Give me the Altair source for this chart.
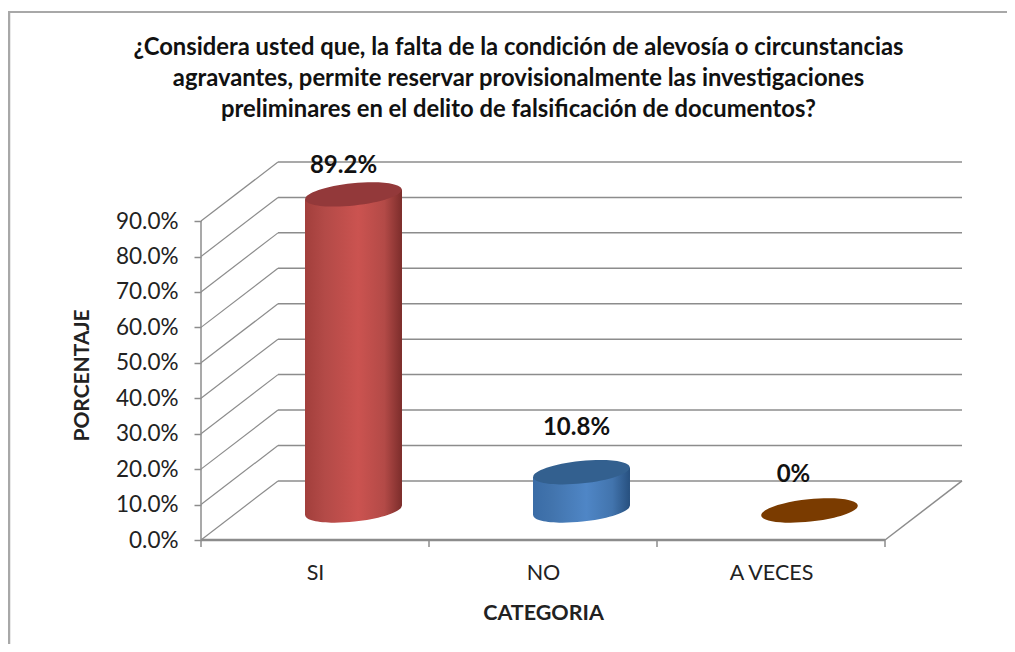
import altair as alt
import pandas as pd

# ---- values
categories = ["SI", "NO", "A VECES"]
shares = [0.892, 0.108, 0.0]
share_labels = ["89.2%", "10.8%", "0%"]
tick_values = [0.0, 0.1, 0.2, 0.3, 0.4, 0.5, 0.6, 0.7, 0.8, 0.9]
title_lines = [
    "¿Considera usted que, la falta de la condición de alevosía o circunstancias",
    "agravantes, permite reservar provisionalmente las investigaciones",
    "preliminares en el delito de falsificación de documentos?",
]
y_title = "PORCENTAJE"
x_title = "CATEGORIA"

# ---- styles
left_colors = ["#a23f3c", "#3a6ca6", "#7a3b00"]
shade_colors = ["#b34a47", "#4274ad", "#7a3b00"]
mid_colors = ["#cb5350", "#4f86c6", "#7a3b00"]
right_colors = ["#7c2d2b", "#27507f", "#7a3b00"]
cap_colors = ["#93393a", "#33608f", "#7a3b00"]
grid_color = "#8c8c8c"
text_color = "#222222"
FONT = "Lato"

# ---- layout (3-D projection expressed in axis units)
W, H = 761, 378
PAD = {"left": 193, "top": 154, "right": 45, "bottom": 104}
DX = 0.3377   # depth in category units
DY = 0.1667   # depth in share units
HALF = 0.2127  # half cylinder width
TILT = 0.0135  # half tilt of the ellipse
SIZE = 9409
ELLIPSE = "M -0.995 0.104 A 1 0.23 -6 1 1 0.995 -0.104 A 1 0.23 -6 1 1 -0.995 0.104 Z"
LABEL_NUDGE = [(-10, -28), (-5, -44), (-16, -35)]

xs = alt.Scale(domain=[0, 3 + DX], nice=False, zero=False)
ys = alt.Scale(domain=[0, 0.9 + DY], nice=False, zero=False)


def X(field="x", **kw):
    return alt.X(field, type="quantitative", scale=xs, **kw)


def Y(field="y", **kw):
    return alt.Y(field, type="quantitative", scale=ys, **kw)


def segs(rows, width=1.5, color=grid_color):
    df = pd.DataFrame(rows, columns=["x", "y", "x2", "y2"])
    return alt.Chart(df).mark_rule(color=color, strokeWidth=width).encode(
        x=X(), y=Y(), x2="x2", y2="y2"
    )


# walls and floor
back = segs([(DX, v + DY, 3 + DX, v + DY) for v in tick_values])
side = segs([(0, v, DX, v + DY) for v in tick_values], width=1.2)
y_line = segs([(0, 0, 0, tick_values[-1])])
floor = segs([(0, 0, 3, 0), (3, 0, 3 + DX, DY)], width=1.5)
floor2 = segs([(0, 0, 3, 0)], width=2.5)

# category separators under the floor line
x_ticks = alt.Chart(pd.DataFrame({"x": [0, 1, 2, 3]})).mark_rule(
    color=grid_color, strokeWidth=1.5
).encode(x=X(), y=alt.value(H), y2=alt.value(H + 7))

# real axes (carry tick labels and titles)
axes = alt.Chart(
    pd.DataFrame({"x": [i + 0.5 for i in range(len(categories))], "y": tick_values[:3]})
).mark_point(opacity=0).encode(
    x=X(axis=alt.Axis(
        values=[i + 0.5 for i in range(len(categories))],
        labelExpr="datum.value < 1 ? '%s' : datum.value < 2 ? '%s' : '%s'" % tuple(categories),
        domain=False, ticks=False, grid=False, labelPadding=22,
        labelFontSize=21.5, labelFont=FONT, labelColor=text_color,
        title=x_title, titleFont=FONT, titleFontSize=21.5, titleFontWeight="bold",
        titleColor=text_color, titleX=342, titleY=73, titleBaseline="middle",
    )),
    y=Y(axis=alt.Axis(
        values=tick_values, format=".1%", domain=False, grid=False,
        tickColor=grid_color, tickSize=7, tickWidth=1.5, labelPadding=16,
        labelFontSize=22.5, labelFont=FONT, labelColor=text_color,
        title=y_title, titleFont=FONT, titleFontSize=21, titleFontWeight="bold",
        titleColor=text_color, titleX=-119, titleY=213, titleBaseline="middle",
    )),
)

layers = [axes, back, side, y_line, floor, floor2, x_ticks]

for i, (cat, val) in enumerate(zip(categories, shares)):
    cx = i + 0.5 + DX / 2
    base = DY / 2
    grad = alt.Gradient(
        gradient="linear", x1=0, x2=1, y1=0, y2=0,
        stops=[
            alt.GradientStop(color=left_colors[i], offset=0),
            alt.GradientStop(color=shade_colors[i], offset=0.2),
            alt.GradientStop(color=mid_colors[i], offset=0.55),
            alt.GradientStop(color=shade_colors[i], offset=0.82),
            alt.GradientStop(color=right_colors[i], offset=1),
        ],
    )
    bottom = alt.Chart(pd.DataFrame({"x": [cx], "y": [base]})).mark_point(
        shape=ELLIPSE, size=SIZE, filled=True, fill=grad, opacity=1, strokeWidth=0
    ).encode(x=X(), y=Y())
    body = alt.Chart(pd.DataFrame({
        "x": [cx - HALF, cx + HALF],
        "y": [base + val - TILT, base + val + TILT],
        "y2": [base - TILT, base + TILT],
    })).mark_area(fill=grad, opacity=1).encode(
        x=X(), y=Y(), y2="y2"
    )
    top = alt.Chart(pd.DataFrame({"x": [cx], "y": [base + val]})).mark_point(
        shape=ELLIPSE, size=SIZE, filled=True, fill=cap_colors[i], opacity=1, strokeWidth=0
    ).encode(x=X(), y=Y())
    nx, ny = LABEL_NUDGE[i]
    label = alt.Chart(pd.DataFrame({"x": [cx], "y": [base + val], "t": [share_labels[i]]})).mark_text(
        font=FONT, fontSize=24, fontWeight="bold", color="#111111", dx=nx, dy=ny
    ).encode(x=X(), y=Y(), text="t:N")
    if val > 0:
        layers += [bottom, body]
    layers += [top, label]

# outer frame: only the top and left edges show in the picture
frame_top = alt.Chart(pd.DataFrame({"k": [0]})).mark_rule(color="#a8a8a8", strokeWidth=2).encode(
    x=alt.value(-193), x2=alt.value(W + PAD["right"]), y=alt.value(-150)
)
frame_left = alt.Chart(pd.DataFrame({"k": [0]})).mark_rule(color="#a8a8a8", strokeWidth=2.5).encode(
    x=alt.value(-192), y=alt.value(-150), y2=alt.value(H + PAD["bottom"])
)
layers += [frame_top, frame_left]

chart = alt.layer(*layers).properties(
    width=W, height=H,
    padding=PAD,
    autosize=alt.AutoSizeParams(type="none"),
    background="white",
    title=alt.TitleParams(
        text=title_lines, font=FONT, fontSize=23.8, fontWeight="bold", color="#111111",
        anchor="middle", frame="group", dx=-63, lineHeight=31, offset=-111,
    ),
).configure_view(stroke=None)

chart.save("out.html", embed_options={"renderer": "svg", "actions": False})
